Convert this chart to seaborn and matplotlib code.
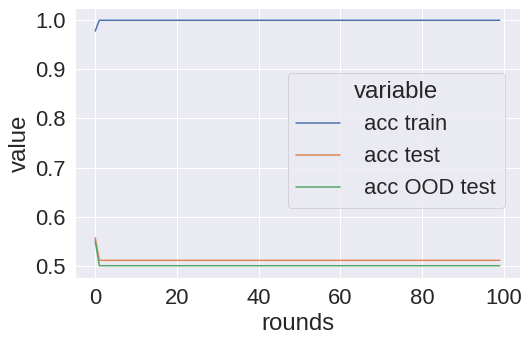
import numpy as np
import pandas as pd
import matplotlib
matplotlib.use("Agg")
import matplotlib.pyplot as plt
import seaborn as sns

# values: first round differs, then flat
rounds = list(range(100))
acc_train = [0.978] + [1.0] * 99
acc_test = [0.557] + [0.511] * 99
acc_ood = [0.550] + [0.500] * 99

df = pd.DataFrame({"rounds": rounds,
                   " acc train": acc_train,
                   " acc test": acc_test,
                   " acc OOD test": acc_ood})
long_df = df.melt(id_vars="rounds", var_name="variable", value_name="value")

sns.set_theme(style="darkgrid", font_scale=2)
plt.rcParams['font.family'] = ['Liberation Sans', 'DejaVu Sans']

fig, ax = plt.subplots(figsize=(530/72, 342/72), dpi=72)
sns.lineplot(data=long_df, x="rounds", y="value", hue="variable", ax=ax)
ax.set_xticks([0, 20, 40, 60, 80, 100])
ax.set_yticks([0.5, 0.6, 0.7, 0.8, 0.9, 1.0])
ax.legend(title="variable", loc="center right", bbox_to_anchor=(0.99, 0.51))

fig.subplots_adjust(left=75/530, right=520/530, top=1 - 8/342, bottom=1 - 278/342)
fig.savefig("out.png", dpi=72)
